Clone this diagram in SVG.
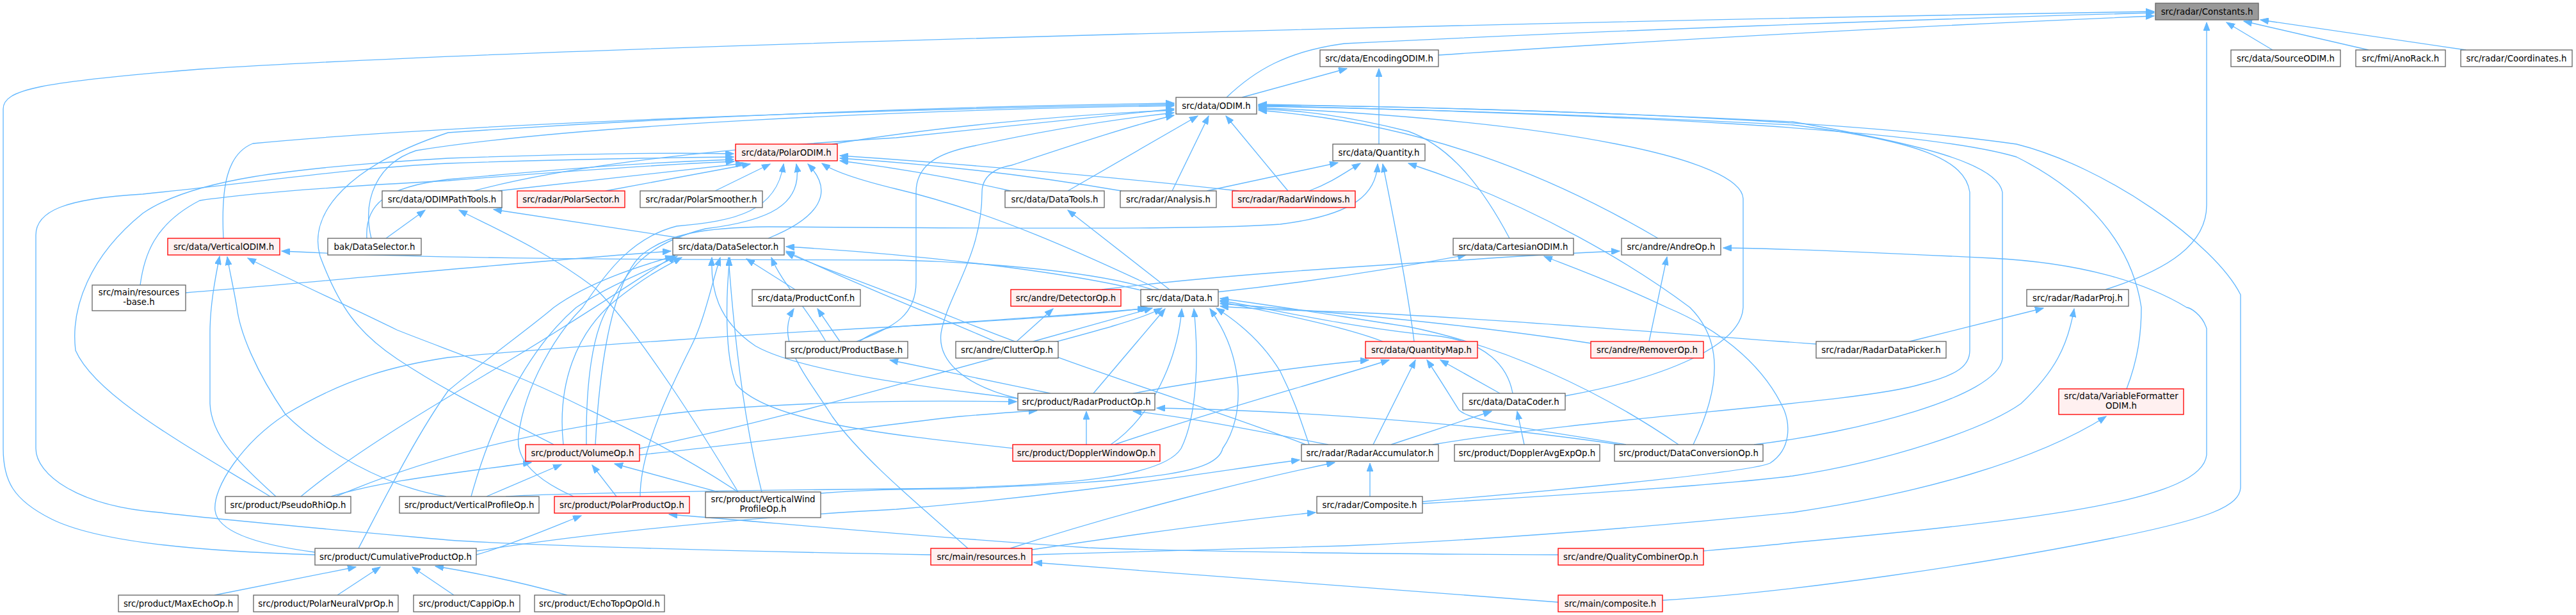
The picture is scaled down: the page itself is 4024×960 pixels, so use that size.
<svg xmlns="http://www.w3.org/2000/svg" width="4024" height="960" viewBox="0 0 4024 960">
<style>
.n rect{fill:#ffffff;stroke:#666666;stroke-width:1.33}
.r rect{fill:#fff0f0;stroke:#ff0000;stroke-width:1.33}
.root rect{fill:#999999;stroke:#666666;stroke-width:1.33}
text{font-family:"DejaVu Sans","Liberation Sans",sans-serif;font-size:13.33px;fill:#000000;text-anchor:middle}
#edges path{fill:none;stroke:#63b8ff;stroke-width:1.33;marker-end:url(#ah)}
</style>
<defs>
<marker id="ah" markerUnits="userSpaceOnUse" markerWidth="14" markerHeight="10" refX="13" refY="5" orient="auto">
<path d="M0,0 L13,5 L0,10 z" fill="#63b8ff" stroke="#63b8ff"/>
</marker>
</defs>
<rect width="4024" height="960" fill="#ffffff"/>
<g id="edges">
<path d="M2247,86 C2600,62 3050,38 3365,25"/>
<path d="M1916,152 C1960,110 2010,80 2100,68 C2500,48 3000,30 3365,20"/>
<path d="M492,866 C300,860 150,845 80,810 C20,780 5,750 5,700 L5,170 C5,140 60,128 312,108 C900,70 2500,32 3365,18"/>
<path d="M3550,78 L3478,35"/>
<path d="M3700,78 L3505,33"/>
<path d="M3852,78 L3531,31"/>
<path d="M3289,452 C3390,420 3447,380 3447,320 L3447,35"/>
<path d="M1940,152 L2104,107"/>
<path d="M2154,225 L2154,107"/>
<path d="M1300,225 C1450,200 1650,180 1834,172"/>
<path d="M740,298 C900,255 1150,230 1400,215 C1600,195 1750,178 1834,170"/>
<path d="M349,372 C345,290 355,240 395,224 C700,195 1300,172 1834,163"/>
<path d="M580,372 C565,310 590,255 650,235 C900,195 1400,172 1834,165"/>
<path d="M865,694 C760,640 700,613 620,560 C560,520 530,480 500,400 C480,330 549,257 700,207 C1100,180 1500,166 1834,161"/>
<path d="M1668,298 L1871,181"/>
<path d="M1831,298 L1888,181"/>
<path d="M2012,298 L1915,181"/>
<path d="M2358,372 C2320,300 2270,230 2200,205 C2100,180 2030,172 1966,170"/>
<path d="M2590,372 C2450,290 2250,195 1966,172"/>
<path d="M2445,618 C2600,590 2720,540 2723,480 L2723,310 C2720,250 2450,190 1966,168"/>
<path d="M2238,694 C2500,650 2900,630 3000,600 C3060,585 3077,570 3077,547 L3077,300 C3070,250 3000,220 2800,195 C2500,180 2200,170 1966,166"/>
<path d="M2740,694 C2900,675 3120,620 3128,560 L3128,300 C3120,255 3000,225 2800,190 C2500,175 2200,166 1966,164"/>
<path d="M3322,607 C3340,560 3345,520 3345,480 C3330,380 3260,300 3150,245 C3000,200 2500,178 1966,165"/>
<path d="M2597,937 C2800,925 3100,880 3300,840 C3450,810 3500,790 3500,760 L3500,460 C3460,380 3290,260 3150,225 C2900,190 2500,172 1966,163"/>
<path d="M1338,533 C1400,510 1431,490 1431,440 L1431,300 C1431,255 1470,238 1520,228 C1650,200 1750,185 1834,176"/>
<path d="M1590,622 C1500,600 1465,560 1470,520 C1480,460 1534,400 1534,300 C1534,275 1555,262 1580,258 C1680,225 1770,195 1834,180"/>
<path d="M1885,298 L2090,254"/>
<path d="M2045,298 C2080,285 2100,270 2125,255"/>
<path d="M930,694 C935,600 950,450 1000,400 C1040,365 1100,355 1200,354 C1600,357 1900,358 2000,350 C2120,335 2150,300 2152,256"/>
<path d="M2209,533 C2200,460 2175,330 2160,256"/>
<path d="M2645,694 C2690,600 2690,530 2640,480 C2560,420 2400,320 2200,255"/>
<path d="M603,372 L664,328"/>
<path d="M1066,372 L771,327"/>
<path d="M1153,768 C1100,680 1000,520 930,450 C850,390 780,360 717,328"/>
<path d="M778,298 L1162,255"/>
<path d="M946,298 L1172,256"/>
<path d="M1117,298 L1203,256"/>
<path d="M896,775 C840,750 805,720 810,680 C820,600 870,520 910,480 C950,420 990,370 1057,353 C1150,345 1213,330 1224,256"/>
<path d="M916,694 C915,600 925,520 950,480 C980,420 1010,380 1102,357 C1200,345 1255,320 1244,256"/>
<path d="M1200,372 C1280,340 1305,300 1262,256"/>
<path d="M1811,452 C1700,400 1550,330 1400,295 C1330,278 1300,266 1284,255"/>
<path d="M1579,298 C1500,280 1400,262 1312,251"/>
<path d="M1752,298 C1600,272 1450,256 1312,247"/>
<path d="M1935,298 C1700,272 1450,252 1312,243"/>
<path d="M573,372 C570,320 600,292 700,280 C900,262 1000,254 1146,249"/>
<path d="M1454,866 C1100,860 800,850 700,843 C500,825 330,810 250,800 C120,790 56,740 56,700 L56,367 C56,330 100,310 223,303 C400,285 550,262 700,255 C900,248 1050,246 1146,245"/>
<path d="M422,775 C300,700 150,620 118,547 C110,480 140,400 223,333 C300,280 450,262 700,247 C900,240 1050,238 1146,240"/>
<path d="M219,445 C225,400 240,350 312,313 C400,300 550,290 700,282 C900,266 1050,256 1147,252"/>
<path d="M1800,452 C1700,420 1500,408 1400,406 C1000,405 700,405 440,392"/>
<path d="M431,775 C370,720 330,680 328,630 L328,520 C328,480 335,440 343,400"/>
<path d="M697,775 C600,760 500,700 446,647 C400,580 375,520 370,480 C365,450 358,420 355,401"/>
<path d="M1153,768 C1050,700 968,663 900,630 C800,580 700,547 620,515 C550,480 480,450 387,403"/>
<path d="M1242,452 L1166,404"/>
<path d="M290,457 C500,440 800,410 1048,392"/>
<path d="M1290,533 C1260,480 1220,440 1205,402"/>
<path d="M1590,622 C1450,605 1250,580 1180,540 C1120,500 1110,450 1112,402"/>
<path d="M880,694 C870,600 900,520 960,470 C1010,430 1040,415 1065,402"/>
<path d="M1000,775 C1000,700 1050,600 1080,540 C1100,500 1110,450 1125,402"/>
<path d="M736,775 C770,650 830,540 900,480 C960,440 1020,420 1058,400"/>
<path d="M470,775 C560,700 700,620 800,560 C900,500 990,440 1055,398"/>
<path d="M1190,768 C1160,650 1145,500 1138,402"/>
<path d="M1585,700 C1400,680 1200,660 1150,600 C1130,550 1135,450 1140,402"/>
<path d="M2040,694 C1900,640 1700,580 1500,500 C1350,440 1260,410 1228,394"/>
<path d="M1554,533 C1480,500 1350,450 1228,392"/>
<path d="M560,856 C600,780 650,680 700,610 C760,560 830,510 865,480 C920,440 1000,415 1052,400"/>
<path d="M1790,455 C1650,420 1400,395 1228,385"/>
<path d="M1900,456 C2050,440 2200,415 2290,398"/>
<path d="M2222,783 C2500,760 2740,735 2765,723 C2800,700 2795,660 2787,640 C2760,580 2700,520 2604,480 C2520,440 2450,415 2412,400"/>
<path d="M1721,452 C1900,430 2100,417 2300,405 C2400,398 2480,394 2530,392"/>
<path d="M2576,533 L2604,401"/>
<path d="M2661,860 C2720,855 2780,850 2800,847 C3200,810 3440,780 3447,710 L3447,513 C3440,490 3420,480 3416,480 C3350,440 3250,410 3111,403 C2950,395 2800,388 2692,387"/>
<path d="M1312,533 L1277,482"/>
<path d="M1512,856 C1450,800 1350,720 1300,650 C1255,580 1210,530 1240,482"/>
<path d="M1588,533 L1645,482"/>
<path d="M1827,452 L1668,328"/>
<path d="M1342,533 C1370,515 1390,510 1400,510 C1550,500 1700,490 1795,481"/>
<path d="M1614,533 L1800,481"/>
<path d="M1708,614 L1820,482"/>
<path d="M1735,694 C1800,650 1840,560 1846,482"/>
<path d="M790,775 C850,770 1200,765 1400,763 C1700,760 1820,740 1845,700 C1870,650 1873,560 1865,482"/>
<path d="M1282,770 C1350,765 1400,763 1500,763 C1800,750 1900,740 1910,700 C1945,650 1945,560 1890,482"/>
<path d="M999,700 C1200,660 1400,600 1550,560 C1700,520 1780,500 1815,481"/>
<path d="M492,862 C400,850 340,830 336,797 C332,760 380,690 446,647 C540,590 620,570 700,558 C900,540 1200,520 1400,510 C1600,498 1720,490 1790,481"/>
<path d="M2837,537 C2600,520 2300,495 2100,487 C2000,484 1950,482 1906,478"/>
<path d="M2486,536 C2350,515 2150,492 1906,474"/>
<path d="M2160,533 C2100,510 2000,490 1906,471"/>
<path d="M2363,614 C2355,570 2320,535 2250,525 C2100,510 2000,485 1906,469"/>
<path d="M2622,694 C2500,610 2350,540 2200,510 C2100,495 2000,478 1906,466"/>
<path d="M2045,694 C2030,650 2020,620 2000,580 C1970,530 1930,500 1900,481"/>
<path d="M1770,614 C1900,590 2050,570 2138,562"/>
<path d="M1741,694 C1900,640 2050,600 2170,562"/>
<path d="M2145,694 L2211,562"/>
<path d="M2540,694 C2400,670 2300,660 2279,640 C2260,610 2245,585 2229,562"/>
<path d="M2343,614 L2250,562"/>
<path d="M2173,694 L2330,642"/>
<path d="M2381,694 L2370,642"/>
<path d="M2983,533 L3192,481"/>
<path d="M2222,786 C2500,770 2700,755 2800,743 C2950,720 3100,670 3157,630 C3210,580 3230,540 3240,482"/>
<path d="M1641,614 C1550,595 1450,575 1390,562"/>
<path d="M1697,694 L1697,642"/>
<path d="M999,710 C1200,690 1400,660 1500,650 C1560,645 1600,642 1620,641"/>
<path d="M2075,694 C1950,670 1850,650 1770,642"/>
<path d="M2530,694 C2300,660 2000,640 1807,637"/>
<path d="M525,775 C700,700 900,660 1100,640 C1300,625 1450,625 1588,627"/>
<path d="M517,775 C600,750 700,740 830,722"/>
<path d="M760,775 L877,725"/>
<path d="M963,775 L925,726"/>
<path d="M1122,768 L960,724"/>
<path d="M744,866 C800,850 870,820 908,805"/>
<path d="M2434,866 C2200,865 1900,862 1700,855 C1400,835 1200,815 1045,803"/>
<path d="M2140,775 L2140,723"/>
<path d="M745,860 C1000,820 1300,800 1400,795 C1700,770 1900,735 2030,718"/>
<path d="M1578,856 C1750,800 1950,750 2085,722"/>
<path d="M1612,858 C1800,830 1950,810 2055,800"/>
<path d="M1612,866 C1800,860 2000,855 2100,852 C2400,840 2700,810 2800,800 C3000,770 3180,720 3290,650"/>
<path d="M2434,940 C2200,920 1900,900 1615,878"/>
<path d="M335,929 L556,885"/>
<path d="M527,929 L594,885"/>
<path d="M709,929 L644,885"/>
<path d="M886,929 C800,905 720,890 680,884"/>
</g>
<g id="n_constants" class="root"><rect x="3367" y="5" width="161" height="26"/><text x="3447.5" y="22.5">src/radar/Constants.h</text></g>
<g id="n_encodingodim" class="n"><rect x="2062" y="78" width="185" height="26"/><text x="2154.5" y="95.5">src/data/EncodingODIM.h</text></g>
<g id="n_sourceodim" class="n"><rect x="3485" y="78" width="171" height="26"/><text x="3570.5" y="95.5">src/data/SourceODIM.h</text></g>
<g id="n_anorack" class="n"><rect x="3680" y="78" width="140" height="26"/><text x="3750" y="95.5">src/fmi/AnoRack.h</text></g>
<g id="n_coordinates" class="n"><rect x="3844" y="78" width="174" height="26"/><text x="3931" y="95.5">src/radar/Coordinates.h</text></g>
<g id="n_odim" class="n"><rect x="1837" y="152" width="126" height="26"/><text x="1900" y="169.5">src/data/ODIM.h</text></g>
<g id="n_polarodim" class="r"><rect x="1149" y="225" width="159" height="26"/><text x="1228.5" y="242.5">src/data/PolarODIM.h</text></g>
<g id="n_quantity" class="n"><rect x="2082" y="225" width="144" height="26"/><text x="2154" y="242.5">src/data/Quantity.h</text></g>
<g id="n_odimpathtools" class="n"><rect x="597" y="298" width="187" height="26"/><text x="690.5" y="315.5">src/data/ODIMPathTools.h</text></g>
<g id="n_polarsector" class="r"><rect x="808" y="298" width="168" height="26"/><text x="892" y="315.5">src/radar/PolarSector.h</text></g>
<g id="n_polarsmoother" class="n"><rect x="1000" y="298" width="191" height="26"/><text x="1095.5" y="315.5">src/radar/PolarSmoother.h</text></g>
<g id="n_datatools" class="n"><rect x="1570" y="298" width="155" height="26"/><text x="1647.5" y="315.5">src/data/DataTools.h</text></g>
<g id="n_analysis" class="n"><rect x="1750" y="298" width="150" height="26"/><text x="1825" y="315.5">src/radar/Analysis.h</text></g>
<g id="n_radarwindows" class="r"><rect x="1925" y="298" width="192" height="26"/><text x="2021" y="315.5">src/radar/RadarWindows.h</text></g>
<g id="n_verticalodim" class="r"><rect x="262" y="372" width="175" height="26"/><text x="349.5" y="389.5">src/data/VerticalODIM.h</text></g>
<g id="n_bakdataselector" class="n"><rect x="512" y="372" width="146" height="26"/><text x="585" y="389.5">bak/DataSelector.h</text></g>
<g id="n_dataselector" class="n"><rect x="1051" y="372" width="174" height="26"/><text x="1138" y="389.5">src/data/DataSelector.h</text></g>
<g id="n_cartesianodim" class="n"><rect x="2270" y="372" width="188" height="26"/><text x="2364" y="389.5">src/data/CartesianODIM.h</text></g>
<g id="n_andreop" class="n"><rect x="2533" y="372" width="155" height="26"/><text x="2610.5" y="389.5">src/andre/AndreOp.h</text></g>
<g id="n_resourcesbase" class="n"><rect x="144" y="445" width="146" height="40"/><text x="217" y="461">src/main/resources</text><text x="217" y="476">-base.h</text></g>
<g id="n_productconf" class="n"><rect x="1175" y="452" width="169" height="26"/><text x="1259.5" y="469.5">src/data/ProductConf.h</text></g>
<g id="n_detectorop" class="r"><rect x="1579" y="452" width="172" height="26"/><text x="1665" y="469.5">src/andre/DetectorOp.h</text></g>
<g id="n_data" class="n"><rect x="1782" y="452" width="121" height="26"/><text x="1842.5" y="469.5">src/data/Data.h</text></g>
<g id="n_radarproj" class="n"><rect x="3166" y="452" width="159" height="26"/><text x="3245.5" y="469.5">src/radar/RadarProj.h</text></g>
<g id="n_productbase" class="n"><rect x="1227" y="533" width="191" height="26"/><text x="1322.5" y="550.5">src/product/ProductBase.h</text></g>
<g id="n_clutterop" class="n"><rect x="1493" y="533" width="160" height="26"/><text x="1573" y="550.5">src/andre/ClutterOp.h</text></g>
<g id="n_quantitymap" class="r"><rect x="2133" y="533" width="175" height="26"/><text x="2220.5" y="550.5">src/data/QuantityMap.h</text></g>
<g id="n_removerop" class="r"><rect x="2485" y="533" width="176" height="26"/><text x="2573" y="550.5">src/andre/RemoverOp.h</text></g>
<g id="n_radardatapicker" class="n"><rect x="2837" y="533" width="203" height="26"/><text x="2938.5" y="550.5">src/radar/RadarDataPicker.h</text></g>
<g id="n_radarproductop" class="n"><rect x="1590" y="614" width="214" height="26"/><text x="1697" y="631.5">src/product/RadarProductOp.h</text></g>
<g id="n_datacoder" class="n"><rect x="2285" y="614" width="160" height="26"/><text x="2365" y="631.5">src/data/DataCoder.h</text></g>
<g id="n_variableformatterodim" class="r"><rect x="3216" y="607" width="195" height="40"/><text x="3313.5" y="623">src/data/VariableFormatter</text><text x="3313.5" y="638">ODIM.h</text></g>
<g id="n_volumeop" class="r"><rect x="821" y="694" width="178" height="26"/><text x="910" y="711.5">src/product/VolumeOp.h</text></g>
<g id="n_dopplerwindowop" class="r"><rect x="1582" y="694" width="230" height="26"/><text x="1697" y="711.5">src/product/DopplerWindowOp.h</text></g>
<g id="n_radaraccumulator" class="n"><rect x="2033" y="694" width="214" height="26"/><text x="2140" y="711.5">src/radar/RadarAccumulator.h</text></g>
<g id="n_doppleravgexpop" class="n"><rect x="2272" y="694" width="227" height="26"/><text x="2385.5" y="711.5">src/product/DopplerAvgExpOp.h</text></g>
<g id="n_dataconversionop" class="n"><rect x="2522" y="694" width="232" height="26"/><text x="2638" y="711.5">src/product/DataConversionOp.h</text></g>
<g id="n_pseudorhiop" class="n"><rect x="352" y="775" width="196" height="26"/><text x="450" y="792.5">src/product/PseudoRhiOp.h</text></g>
<g id="n_verticalprofileop" class="n"><rect x="624" y="775" width="218" height="26"/><text x="733" y="792.5">src/product/VerticalProfileOp.h</text></g>
<g id="n_polarproductop" class="r"><rect x="866" y="775" width="211" height="26"/><text x="971.5" y="792.5">src/product/PolarProductOp.h</text></g>
<g id="n_verticalwindprofileop" class="n"><rect x="1102" y="768" width="180" height="40"/><text x="1192" y="784">src/product/VerticalWind</text><text x="1192" y="799">ProfileOp.h</text></g>
<g id="n_composite_radar" class="n"><rect x="2057" y="775" width="165" height="26"/><text x="2139.5" y="792.5">src/radar/Composite.h</text></g>
<g id="n_cumulativeproductop" class="n"><rect x="492" y="856" width="252" height="26"/><text x="618" y="873.5">src/product/CumulativeProductOp.h</text></g>
<g id="n_resources" class="r"><rect x="1454" y="856" width="158" height="26"/><text x="1533" y="873.5">src/main/resources.h</text></g>
<g id="n_qualitycombinerop" class="r"><rect x="2434" y="856" width="227" height="26"/><text x="2547.5" y="873.5">src/andre/QualityCombinerOp.h</text></g>
<g id="n_maxechoop" class="n"><rect x="185" y="929" width="187" height="26"/><text x="278.5" y="946.5">src/product/MaxEchoOp.h</text></g>
<g id="n_polarneuralvprop" class="n"><rect x="396" y="929" width="226" height="26"/><text x="509" y="946.5">src/product/PolarNeuralVprOp.h</text></g>
<g id="n_cappiop" class="n"><rect x="646" y="929" width="166" height="26"/><text x="729" y="946.5">src/product/CappiOp.h</text></g>
<g id="n_echotopopold" class="n"><rect x="835" y="929" width="203" height="26"/><text x="936.5" y="946.5">src/product/EchoTopOpOld.h</text></g>
<g id="n_composite_main" class="r"><rect x="2434" y="929" width="163" height="26"/><text x="2515.5" y="946.5">src/main/composite.h</text></g>
</svg>
